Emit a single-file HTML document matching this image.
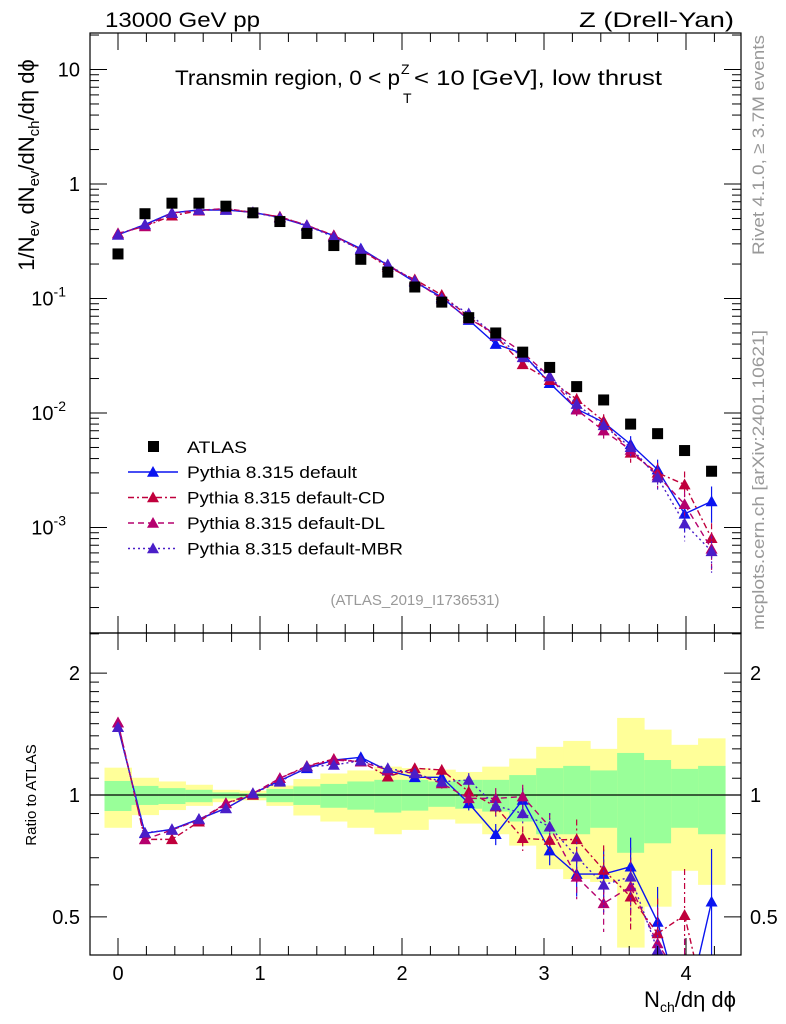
<!DOCTYPE html>
<html><head><meta charset="utf-8"><style>
html,body{margin:0;padding:0;background:#fff;overflow:hidden;width:786px;height:1024px;}
svg{display:block;font-family:"Liberation Sans",sans-serif;}
</style></head><body>
<svg id="chart" width="786" height="1024" viewBox="0 0 786 1024">
<defs>
<clipPath id="clipMain"><rect x="90" y="33" width="651" height="600"/></clipPath>
<clipPath id="clipRatio"><rect x="90" y="633" width="651" height="322"/></clipPath>
</defs>
<g id="bands" clip-path="url(#clipRatio)"></g>
<g id="series-ratio" clip-path="url(#clipRatio)"></g>
<g id="series-main" clip-path="url(#clipMain)"></g>
<rect x="90" y="33" width="651" height="600" fill="none" stroke="#000" stroke-width="1.2"/>
<rect x="90" y="633" width="651" height="322" fill="none" stroke="#000" stroke-width="1.2"/>
<g id="ticks"></g>
<text x="105" y="27" font-size="21" textLength="155" lengthAdjust="spacingAndGlyphs">13000 GeV pp</text>
<text x="579" y="27" font-size="21" textLength="155" lengthAdjust="spacingAndGlyphs">Z (Drell-Yan)</text>
<g>
<text x="175" y="85" font-size="21" textLength="225" lengthAdjust="spacingAndGlyphs">Transmin region, 0 &lt; p</text>
<text x="401" y="74" font-size="14">Z</text>
<text x="403" y="103" font-size="14">T</text>
<text x="414" y="85" font-size="21" textLength="248" lengthAdjust="spacingAndGlyphs">&lt; 10 [GeV], low thrust</text>
</g>
<text x="415" y="605" font-size="15" fill="#999" text-anchor="middle">(ATLAS_2019_I1736531)</text>
<text transform="translate(764,255) rotate(-90)" font-size="17" fill="#999" textLength="220" lengthAdjust="spacingAndGlyphs">Rivet 4.1.0, ≥ 3.7M events</text>
<text transform="translate(764,630) rotate(-90)" font-size="17" fill="#999" textLength="300" lengthAdjust="spacingAndGlyphs">mcplots.cern.ch [arXiv:2401.10621]</text>
<text transform="translate(34,165) rotate(-90)" font-size="22" text-anchor="middle">1/N<tspan font-size="15" dy="5">ev</tspan><tspan dy="-5"> dN</tspan><tspan font-size="15" dy="5">ev</tspan><tspan dy="-5">/dN</tspan><tspan font-size="15" dy="5">ch</tspan><tspan dy="-5">/dη dϕ</tspan></text>
<text transform="translate(36,795) rotate(-90)" font-size="15" text-anchor="middle">Ratio to ATLAS</text>
<text x="736" y="1007" font-size="22" text-anchor="end">N<tspan font-size="14" dy="5">ch</tspan><tspan dy="-5">/dη dϕ</tspan></text>
<g id="legend"></g>
</svg>
<script>
const xs = [0,0.19,0.38,0.57,0.76,0.95,1.14,1.33,1.52,1.71,1.9,2.09,2.28,2.47,2.66,2.85,3.04,3.23,3.42,3.61,3.8,3.99,4.18];
const atlas = [0.245,0.55,0.68,0.68,0.64,0.56,0.47,0.37,0.29,0.22,0.17,0.126,0.093,0.068,0.050,0.034,0.025,0.017,0.013,0.008,0.0066,0.0047,0.0031];
const ratioDefault = [1.47,0.804,0.823,0.872,0.927,1.009,1.085,1.164,1.22,1.239,1.148,1.106,1.106,0.954,0.80,0.972,0.729,0.638,0.638,0.665,0.486,0.28,0.545];
const ratioCD = [1.509,0.777,0.777,0.859,0.954,1.0,1.10,1.179,1.227,1.209,1.11,1.164,1.153,1.019,0.936,0.782,0.774,0.777,0.653,0.561,0.455,0.505,0.26];
const ratioDL = [1.509,0.777,0.82,0.867,0.954,1.009,1.10,1.175,1.22,1.209,1.153,1.131,1.068,0.981,0.981,0.991,0.835,0.628,0.54,0.594,0.43,0.34,0.21];
const ratioMBR = [1.47,0.807,0.82,0.872,0.927,1.009,1.078,1.175,1.186,1.215,1.164,1.131,1.078,1.089,0.941,0.901,0.835,0.704,0.60,0.628,0.414,0.23,0.20];
const errRel = [0,0,0,0,0,0,0,0,0.01,0.01,0.02,0.02,0.03,0.04,0.06,0.07,0.08,0.12,0.15,0.18,0.22,0.3,0.35];
const yellowUp = [1.168,1.103,1.08,1.06,1.03,1.025,1.055,1.095,1.13,1.15,1.175,1.165,1.155,1.14,1.175,1.23,1.315,1.36,1.30,1.55,1.45,1.33,1.38];
const yellowDn = [0.83,0.892,0.918,0.94,0.96,0.97,0.94,0.89,0.86,0.83,0.80,0.82,0.87,0.85,0.80,0.75,0.656,0.62,0.61,0.42,0.53,0.65,0.60];
const greenUp = [1.083,1.053,1.04,1.03,1.015,1.01,1.035,1.05,1.065,1.08,1.09,1.09,1.08,1.09,1.09,1.12,1.165,1.18,1.15,1.27,1.22,1.16,1.18];
const greenDn = [0.913,0.945,0.95,0.96,0.98,0.985,0.96,0.945,0.93,0.92,0.905,0.915,0.935,0.925,0.91,0.86,0.80,0.80,0.83,0.72,0.76,0.83,0.80];
const binHalf = 0.095;

const NS='http://www.w3.org/2000/svg';
const X = v => 118 + v*142;
const Y = v => 184 - Math.log10(v)*114.5;
const R = v => 795 - Math.log10(v)*405;
function mk(parent, tag, attrs){const e=document.createElementNS(NS,tag);for(const k in attrs)e.setAttribute(k,attrs[k]);parent.appendChild(e);return e;}

const bands=document.getElementById('bands');
xs.forEach((x,i)=>{
  const y1=mk(bands,'rect',{x:X(x-binHalf),y:R(yellowUp[i]),width:X(x+binHalf)-X(x-binHalf)+0.5,height:R(yellowDn[i])-R(yellowUp[i]),fill:'#ffff99'});
  
  
  const g1=mk(bands,'rect',{x:X(x-binHalf),y:R(greenUp[i]),width:X(x+binHalf)-X(x-binHalf)+0.5,height:R(greenDn[i])-R(greenUp[i]),fill:'#99ff99'});
  
  
});
const one=mk(bands,'line',{x1:90,x2:741,y1:R(1),y2:R(1),stroke:'#000','stroke-width':1.3});



const tk=document.getElementById('ticks');
function line(x1,y1,x2,y2){mk(tk,'line',{x1,y1,x2,y2,stroke:'#000','stroke-width':1});}
function txt(x,y,s,anchor,size){const t=mk(tk,'text',{x,y,'font-size':size||20,'text-anchor':anchor||'middle'});t.textContent=s;return t;}
for(let v=-0.2;v<=4.4;v+=0.2){
  const vv=Math.round(v*10)/10;const px=X(vv);if(px<90||px>741)continue;
  const major=Math.abs(vv-Math.round(vv))<1e-6;const L=major?17:9;
  line(px,633,px,633-L);line(px,33,px,33+L);line(px,955,px,955-L);line(px,633,px,633+L);
  if(major){const t=txt(px,980,String(Math.round(vv)));}
}
for(let d=-4;d<=1;d++){
  for(let m=1;m<10;m++){
    const v=m*Math.pow(10,d);const py=Y(v);if(py<33||py>633)continue;
    const L=m===1?17:9;line(90,py,90+L,py);line(741,py,741-L,py);
  }
}
const yl=[[10,'10'],[1,'1']];
yl.forEach(([v,s])=>{const t=txt(80,Y(v)+7,s,'end');});
[-1,-2,-3].forEach(e=>{const t=mk(tk,'text',{x:66,y:Y(Math.pow(10,e))+7,'font-size':20,'text-anchor':'end'});t.textContent='10';
  const s=mk(t,'tspan',{dy:-9,'font-size':14});s.textContent=String(e);
  });
[0.4,0.5,0.6,0.7,0.8,0.9,1,1.1,1.2,1.3,1.4,1.5,1.6,1.7,1.8,1.9,2,2.5].forEach(v=>{
  const py=R(v);if(py<633||py>955)return;const major=(v===1||v===2||v===0.5);const L=major?17:9;
  line(90,py,90+L,py);line(741,py,741-L,py);
  if(major){const s=String(v);
    const a=txt(80,py+7,s,'end');
    const b=txt(750,py+7,s,'start');}
});

const series=[
 {name:'default',label:'Pythia 8.315 default',r:ratioDefault,color:'#0a14f0',dash:'',tl:170},
 {name:'default-cd',label:'Pythia 8.315 default-CD',r:ratioCD,color:'#c0003c',dash:'6,3,2,3',tl:198},
 {name:'default-dl',label:'Pythia 8.315 default-DL',r:ratioDL,color:'#b5006e',dash:'6,4',tl:198},
 {name:'default-mbr',label:'Pythia 8.315 default-MBR',r:ratioMBR,color:'#4a1ec8',dash:'2,3',tl:216}
];
function tri(g,cx,cy,color){const s=6;return mk(g,'polygon',{points:`${cx},${cy-s} ${cx-s},${cy+s*0.8} ${cx+s},${cy+s*0.8}`,fill:color});}
const gm=document.getElementById('series-main'), gr=document.getElementById('series-ratio');
series.forEach(s=>{
  const main=s.r.map((r,i)=>r*atlas[i]);
  const pm=main.map((v,i)=>X(xs[i])+','+Y(v)).join(' ');
  const pl=mk(gm,'polyline',{points:pm,fill:'none',stroke:s.color,'stroke-width':1.4,'stroke-dasharray':s.dash});
  
  
  const pr=s.r.map((v,i)=>X(xs[i])+','+R(v)).join(' ');
  const pl2=mk(gr,'polyline',{points:pr,fill:'none',stroke:s.color,'stroke-width':1.4,'stroke-dasharray':s.dash});
  
  
  xs.forEach((x,i)=>{
    const e=errRel[i];
    if(e>0){
      mk(gm,'line',{x1:X(x),x2:X(x),y1:Y(main[i]*(1+e)),y2:Y(main[i]*Math.max(1-e,0.05)),stroke:s.color,'stroke-width':1.2,'stroke-dasharray':s.dash});
      mk(gr,'line',{x1:X(x),x2:X(x),y1:R(s.r[i]*(1+e)),y2:R(s.r[i]*Math.max(1-e,0.05)),stroke:s.color,'stroke-width':1.2,'stroke-dasharray':s.dash});
    }
    const m=tri(gm,X(x),Y(main[i]),s.color);
    
    
    const m2=tri(gr,X(x),R(s.r[i]),s.color);
    
    
  });
});
xs.forEach((x,i)=>{
  const r=mk(gm,'rect',{x:X(x)-5.5,y:Y(atlas[i])-5.5,width:11,height:11,fill:'#000'});
  
  
});

const lg=document.getElementById('legend');
const le=mk(lg,'rect',{x:148,y:441,width:11,height:11,fill:'#000'});


const lt=mk(lg,'text',{x:187,y:453,'font-size':17,textLength:60,lengthAdjust:'spacingAndGlyphs'});lt.textContent='ATLAS';


series.forEach((s,i)=>{
  const y=472+i*25.5;
  mk(lg,'line',{x1:128,x2:178,y1:y,y2:y,stroke:s.color,'stroke-width':1.4,'stroke-dasharray':s.dash});
  tri(lg,153,y,s.color);
  const t=mk(lg,'text',{x:187,y:y+6,'font-size':17,textLength:s.tl,lengthAdjust:'spacingAndGlyphs'});t.textContent=s.label;
  
  
});
</script>
</body></html>
